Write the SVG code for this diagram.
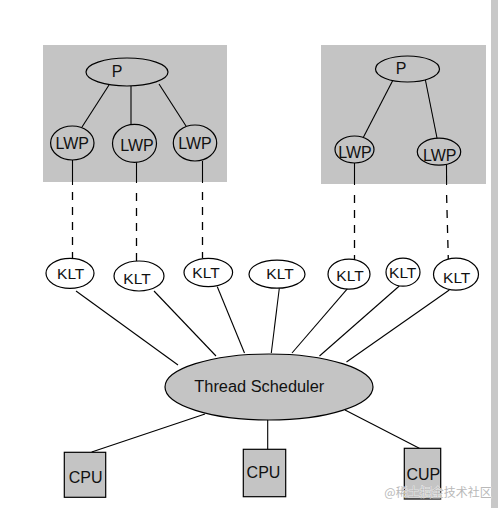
<svg xmlns="http://www.w3.org/2000/svg" width="498" height="508" viewBox="0 0 498 508">
<style>
.box{fill:#c4c4c4}
.g{fill:#c4c4c4;stroke:#000;stroke-width:1.2}
.w{fill:#fff;stroke:#000;stroke-width:1.2}
.ln{stroke:#000;stroke-width:1.1;fill:none}
.dash{stroke:#000;stroke-width:1.3;fill:none;stroke-dasharray:8 7}
text{font-family:"Liberation Sans",Arial,sans-serif;fill:#111;text-anchor:middle}
.t16{font-size:16px}
.t15{font-size:15.5px}
</style>
<rect x="0" y="0" width="498" height="508" fill="#fff"/>
<rect x="491" y="0" width="7" height="508" fill="#c8c8c8"/>
<g id="process1"><rect class="box" x="43" y="45" width="184" height="137"/></g>
<g id="process2"><rect class="box" x="321" y="45" width="165" height="139"/></g>
<g id="connectors">
<line class="ln" x1="109" y1="85" x2="82" y2="127"/>
<line class="ln" x1="131" y1="86" x2="131" y2="125"/>
<line class="ln" x1="159" y1="84" x2="186" y2="126"/>
<line class="ln" x1="393" y1="80" x2="363" y2="138"/>
<line class="ln" x1="425" y1="78" x2="437" y2="138"/>
<line class="ln" x1="72.5" y1="160" x2="72.5" y2="185"/>
<line class="dash" x1="72.5" y1="192" x2="72.5" y2="258"/>
<line class="ln" x1="136.5" y1="162" x2="136.5" y2="183"/>
<line class="dash" x1="136.5" y1="193" x2="136.5" y2="261"/>
<line class="ln" x1="202.5" y1="161" x2="202.5" y2="183"/>
<line class="dash" x1="202.5" y1="192" x2="202.5" y2="258"/>
<line class="ln" x1="354.5" y1="162" x2="354.5" y2="185"/>
<line class="dash" x1="354.5" y1="195" x2="354.5" y2="260"/>
<line class="ln" x1="446.5" y1="165" x2="446.6" y2="185"/>
<line class="dash" x1="446.6" y1="195" x2="448.3" y2="259"/>
<line class="ln" x1="76" y1="291" x2="178" y2="365"/>
<line class="ln" x1="154" y1="291" x2="216" y2="356"/>
<line class="ln" x1="217.3" y1="286.7" x2="244.5" y2="353"/>
<line class="ln" x1="279.3" y1="288.3" x2="271.3" y2="353"/>
<line class="ln" x1="347.7" y1="288.3" x2="292" y2="353"/>
<line class="ln" x1="399.3" y1="286" x2="319.5" y2="356"/>
<line class="ln" x1="449.3" y1="290" x2="346.5" y2="362"/>
<line class="ln" x1="205" y1="414" x2="91.7" y2="452"/>
<line class="ln" x1="267.7" y1="419" x2="267.7" y2="449.3"/>
<line class="ln" x1="345" y1="410" x2="419.3" y2="448.3"/>
</g>
<g id="p1"><ellipse class="g" cx="127" cy="72" rx="41" ry="14"/><text class="t16" x="117" y="77">P</text></g>
<g id="lwp1"><ellipse class="g" cx="72.3" cy="143" rx="21.7" ry="17"/><text class="t16" x="72.3" y="149">LWP</text></g>
<g id="lwp2"><ellipse class="g" cx="134.5" cy="143.4" rx="22" ry="19"/><text class="t16" x="137" y="150.5">LWP</text></g>
<g id="lwp3"><ellipse class="g" cx="195" cy="143" rx="21.7" ry="18"/><text class="t16" x="195" y="149">LWP</text></g>
<g id="p2"><ellipse class="g" cx="407.5" cy="69" rx="32" ry="13"/><text class="t16" x="401" y="74">P</text></g>
<g id="lwp4"><ellipse class="g" cx="354.5" cy="149.5" rx="19.5" ry="13.5"/><text class="t16" x="355" y="157.5">LWP</text></g>
<g id="lwp5"><ellipse class="g" cx="439" cy="151.7" rx="21.7" ry="13.5"/><text class="t16" x="439.7" y="160.5">LWP</text></g>
<g id="klt1"><ellipse class="w" cx="70" cy="273.3" rx="24" ry="15"/><text class="t15" x="70.7" y="279.3">KLT</text></g>
<g id="klt2"><ellipse class="w" cx="139" cy="276" rx="25" ry="15"/><text class="t15" x="137" y="284">KLT</text></g>
<g id="klt3"><ellipse class="w" cx="208.3" cy="272.5" rx="24.3" ry="14.2"/><text class="t15" x="206" y="277.5">KLT</text></g>
<g id="klt4"><ellipse class="w" cx="277" cy="274.2" rx="28" ry="14"/><text class="t15" x="280" y="279">KLT</text></g>
<g id="klt5"><ellipse class="w" cx="349" cy="274.2" rx="21" ry="15"/><text class="t15" x="350" y="280.7">KLT</text></g>
<g id="klt6"><ellipse class="w" cx="403" cy="272.2" rx="17" ry="14"/><text class="t15" x="402.7" y="277.7">KLT</text></g>
<g id="klt7"><ellipse class="w" cx="456" cy="274.2" rx="22.5" ry="16"/><text class="t15" x="456.7" y="282.7">KLT</text></g>
<g id="scheduler"><ellipse class="g" cx="269" cy="387" rx="104" ry="33"/><text x="259.3" y="391.7" font-size="16" textLength="130" lengthAdjust="spacingAndGlyphs">Thread Scheduler</text></g>
<g id="cpu1"><rect class="g" x="64.3" y="452.3" width="41.4" height="45"/><text class="t16" x="85.7" y="482.7">CPU</text></g>
<g id="cpu2"><rect class="g" x="243.3" y="449.3" width="42.4" height="47.4"/><text class="t16" x="263.5" y="477.7">CPU</text></g>
<g id="cpu3"><rect class="g" x="404.3" y="448.3" width="36.4" height="50.7"/><text class="t16" x="423.3" y="479.5">CUP</text></g>
<text x="438" y="497" font-size="12" style="font-family:'Noto Sans CJK SC','Liberation Sans',sans-serif;fill:#b9b9b9;stroke:#fff;stroke-width:0.6;paint-order:stroke">@稀土掘金技术社区</text>
</svg>
